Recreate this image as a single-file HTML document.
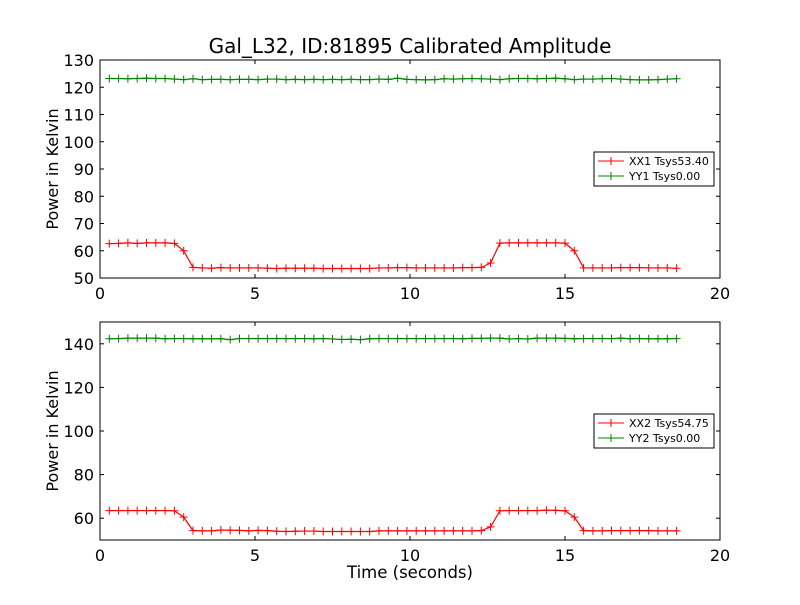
<!DOCTYPE html>
<html><head><meta charset="utf-8">
<style>
body{margin:0;background:#fff;}
svg{font-family:"DejaVu Sans","Liberation Sans",sans-serif;}
</style></head>
<body>
<svg id="c" width="800" height="600"></svg>
<script>
const times=[];for(let i=0;i<62;i++)times.push(+(0.3+0.3*i).toFixed(1));
const xx1=[62.6,62.7,62.9,62.7,62.9,62.9,62.9,62.7,60.0,
53.9,53.7,53.6,53.8,53.7,53.7,53.7,53.7,53.6,53.5,53.6,53.6,53.6,53.6,53.5,53.5,53.5,53.5,53.5,53.5,53.7,53.7,53.8,53.8,53.7,53.7,53.7,53.7,53.7,53.8,53.8,53.9,
55.5,62.8,62.9,62.9,62.9,62.9,62.9,62.9,62.8,60.0,
53.7,53.7,53.7,53.7,53.8,53.8,53.8,53.7,53.7,53.7,53.6];
const yy1=[123.2,123.2,123.1,123.2,123.3,123.2,123.2,123.0,122.8,123.1,122.8,122.9,122.9,122.8,122.9,122.9,122.8,123.0,123.0,122.8,122.9,122.8,122.9,122.8,122.9,122.8,122.9,122.8,122.8,123.0,122.9,123.3,122.9,122.8,122.7,122.8,123.1,123.0,123.1,123.2,123.1,123.0,122.8,123.1,123.2,123.2,123.1,123.2,123.3,123.1,122.8,123.0,123.0,123.1,123.2,123.0,122.8,122.7,122.7,122.8,123.0,123.1];
const xx2=[63.5,63.5,63.5,63.5,63.5,63.5,63.5,63.4,60.5,
54.3,54.2,54.2,54.6,54.5,54.4,54.2,54.4,54.3,54.0,53.9,54.0,54.1,54.1,53.9,53.9,53.9,53.9,53.9,53.9,54.2,54.2,54.2,54.2,54.2,54.2,54.2,54.2,54.2,54.2,54.2,54.3,
56.0,63.4,63.5,63.5,63.5,63.5,63.7,63.6,63.4,60.5,
54.3,54.2,54.2,54.3,54.3,54.3,54.3,54.3,54.2,54.2,54.2];
const yy2=[142.3,142.4,142.6,142.6,142.6,142.6,142.3,142.4,142.4,142.3,142.3,142.3,142.3,141.9,142.4,142.4,142.4,142.4,142.4,142.4,142.4,142.4,142.3,142.4,142.2,142.0,142.1,141.9,142.3,142.4,142.4,142.4,142.4,142.4,142.4,142.4,142.4,142.4,142.3,142.5,142.5,142.6,142.6,142.2,142.4,142.2,142.6,142.6,142.6,142.5,142.3,142.4,142.4,142.4,142.4,142.6,142.3,142.4,142.3,142.3,142.3,142.4];
const xTicks=[0,5,10,15,20];
const yTicks1=[50,60,70,80,90,100,110,120,130];
const yTicks2=[60,80,100,120,140];
const NS="http://www.w3.org/2000/svg";
const svg=document.getElementById('c');
function mk(t,a,p){const e=document.createElementNS(NS,t);for(const k in a)e.setAttribute(k,a[k]);(p||svg).appendChild(e);return e;}
function panel(top,bot,ymin,ymax,yTicks,s1,s2,l1,l2,legY,nm){
  const L=100,R=720;
  const g=mk('g',{});
  
  
  const X=v=>L+(v-0)/(20)*(R-L);
  const Y=v=>bot-(v-ymin)/(ymax-ymin)*(bot-top);
  mk('rect',{x:L,y:top,width:R-L,height:bot-top,fill:'#fff',stroke:'none'},g);
  xTicks.forEach(t=>{const x=X(t);
    mk('line',{x1:x,x2:x,y1:bot,y2:bot-4,stroke:'#000'},g);
    mk('line',{x1:x,x2:x,y1:top,y2:top+4,stroke:'#000'},g);
    const tx=mk('text',{x:x,y:bot+21,'font-size':16,'text-anchor':'middle'},g);tx.textContent=t;
    });
  yTicks.forEach(t=>{const y=Y(t);
    mk('line',{x1:L,x2:L+4,y1:y,y2:y,stroke:'#000'},g);
    mk('line',{x1:R,x2:R-4,y1:y,y2:y,stroke:'#000'},g);
    const tx=mk('text',{x:L-6,y:y+6,'font-size':16,'text-anchor':'end'},g);tx.textContent=t;
    });
  [[s1,'#ff0000','series-xx'],[s2,'#008000','series-yy']].forEach(([s,c,n])=>{
    const pts=s.map((v,i)=>X(times[i])+','+Y(v)).join(' ');
    const pl=mk('polyline',{points:pts,fill:'none',stroke:c,'stroke-width':1.2},g);
    
    s.forEach((v,i)=>{const x=X(times[i]),y=Y(v);
      const m=mk('path',{d:`M${x-4},${y}H${x+4}M${x},${y-4}V${y+4}`,stroke:c,'stroke-width':1},g);
      });
  });
  mk('rect',{x:L,y:top,width:R-L,height:bot-top,fill:'none',stroke:'#000','stroke-width':1},g);
  const yl=mk('text',{x:0,y:0,'font-size':16,'text-anchor':'middle',transform:`translate(58,${(top+bot)/2}) rotate(-90)`},g);
  yl.textContent='Power in Kelvin';
  const lg=mk('g',{},g);
  mk('rect',{x:594,y:legY,width:120,height:34,fill:'#fff',stroke:'#000'},lg);
  [[l1,'#ff0000'],[l2,'#008000']].forEach(([t,c],i)=>{const y=legY+9+i*15;
    mk('line',{x1:598,x2:624,y1:y,y2:y,stroke:c},lg);
    mk('path',{d:`M607,${y}h8M611,${y-4}v8`,stroke:c},lg);
    const tx=mk('text',{x:629,y:y+4,'font-size':11},lg);tx.textContent=t;
    });
}
const ti=mk('text',{x:410,y:53,'font-size':20,'text-anchor':'middle'});ti.textContent='Gal_L32, ID:81895 Calibrated Amplitude';

panel(60,278,50,130,yTicks1,xx1,yy1,'XX1 Tsys53.40','YY1 Tsys0.00',152,'top-panel');
panel(322,540,50,150,yTicks2,xx2,yy2,'XX2 Tsys54.75','YY2 Tsys0.00',414,'bottom-panel');
const xl=mk('text',{x:410,y:578,'font-size':16.5,'text-anchor':'middle'});xl.textContent='Time (seconds)';

</script>
</body></html>
